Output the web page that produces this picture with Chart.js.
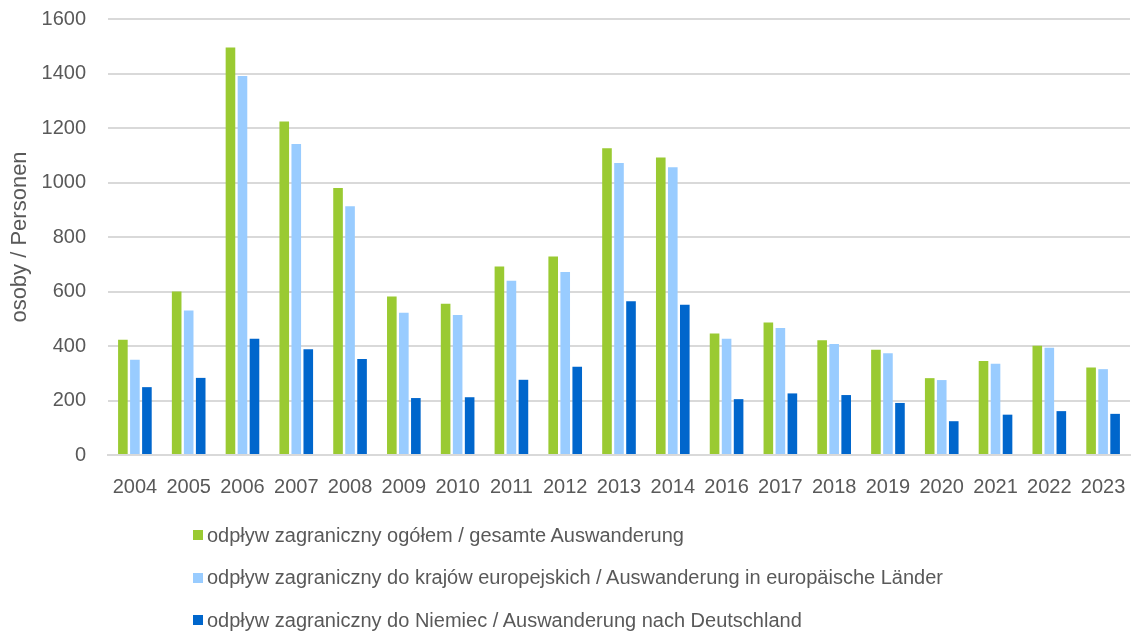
<!DOCTYPE html>
<html>
<head>
<meta charset="utf-8">
<script src="https://cdn.jsdelivr.net/npm/chart.js@4"></script>
<style>
  html,body{margin:0;padding:0;background:#fff;overflow:hidden;}
  #wrap{position:relative;width:1132px;height:633px;overflow:hidden;}
  #c{position:absolute;left:0;top:0;}
  #legend{position:absolute;left:193px;top:514px;font-family:"Liberation Sans",Arial,sans-serif;font-size:20px;color:#595959;}
  .item{display:flex;align-items:center;height:42.5px;white-space:nowrap;}
  .sw{width:10px;height:10px;margin-right:4px;flex:none;}
</style>
</head>
<body>
<div id="wrap">
  <canvas id="c" width="1132" height="519"></canvas>
  <div id="legend"></div>
</div>
<script>
const years = ['2004','2005','2006','2007','2008','2009','2010','2011','2012','2013','2014','2016','2017','2018','2019','2020','2021','2022','2023'];
const total = [423,600,1495,1224,980,582,555,692,728,1126,1092,446,486,421,386,282,345,401,321];
const europe = [350,530,1391,1141,913,522,514,639,672,1072,1056,427,466,407,373,275,335,394,315];
const germany = [249,283,427,388,352,209,212,276,324,564,551,205,226,220,191,124,148,161,151];
const seriesLabels = [
  'odpływ zagraniczny ogółem / gesamte Auswanderung',
  'odpływ zagraniczny do krajów europejskich / Auswanderung in europäische Länder',
  'odpływ zagraniczny do Niemiec / Auswanderung nach Deutschland'
];
const colors = ['#9ACA32','#99CCFF','#0066CC'];
const yTitle = 'osoby / Personen';

const font = '"Liberation Sans", Arial, sans-serif';
const textColor = '#595959';

const chart = new Chart(document.getElementById('c'), {
  type: 'bar',
  data: {
    labels: years,
    datasets: [total, europe, germany].map((d, i) => ({
      label: seriesLabels[i],
      data: d,
      backgroundColor: colors[i],
      borderWidth: 0,
      categoryPercentage: 0.67,
      barPercentage: 0.8
    }))
  },
  options: {
    responsive: false,
    animation: false,
    layout: { padding: { top: 19, right: 2, left: 7, bottom: 0 } },
    plugins: { legend: { display: false }, tooltip: { enabled: false } },
    scales: {
      x: {
        grid: { display: false, drawTicks: false },
        border: { display: true, color: '#d9d9d9', width: 2 },
        ticks: { color: textColor, font: { family: font, size: 20 }, padding: 20, maxRotation: 0, autoSkip: false },
        afterFit: s => { s.paddingLeft = 0; s.paddingRight = 0; }
      },
      y: {
        min: 0, max: 1600,
        ticks: { stepSize: 200, color: textColor, font: { family: font, size: 20 }, padding: 22,
                 callback: v => String(v) },
        grid: { color: '#d9d9d9', lineWidth: 2, drawTicks: false },
        border: { display: false },
        title: { display: true, text: yTitle, color: textColor, font: { family: font, size: 22 }, padding: { top: 0, bottom: 10 } },
        afterFit: s => { s.paddingTop = 0; s.paddingBottom = 0; s.width = 101; }
      }
    }
  }
});

const lg = document.getElementById('legend');
seriesLabels.forEach((t, i) => {
  const it = document.createElement('div');
  it.className = 'item';
  const sw = document.createElement('span');
  sw.className = 'sw';
  sw.style.background = colors[i];
  const tx = document.createElement('span');
  tx.textContent = t;
  it.appendChild(sw); it.appendChild(tx);
  lg.appendChild(it);
});
</script>
</body>
</html>
